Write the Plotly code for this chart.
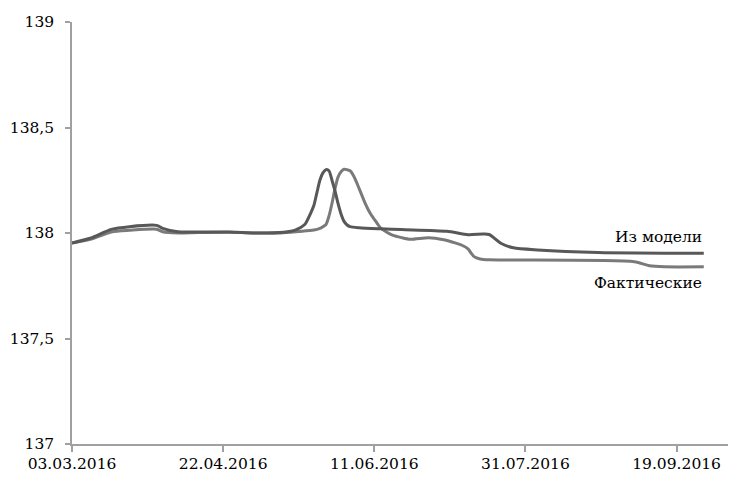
import plotly.graph_objects as go

# ---- data ----
model_dates = ["2016-03-03", "2016-03-09", "2016-03-16", "2016-03-22", "2016-03-31", "2016-04-02",
               "2016-04-07", "2016-04-14", "2016-04-24", "2016-05-04", "2016-05-12", "2016-05-16",
               "2016-05-19", "2016-05-20", "2016-05-21", "2016-05-22", "2016-05-23", "2016-05-24",
               "2016-05-25", "2016-05-26", "2016-05-27", "2016-05-28", "2016-05-29", "2016-05-30",
               "2016-05-31", "2016-06-01", "2016-06-02", "2016-06-03", "2016-06-06", "2016-06-13",
               "2016-06-20", "2016-07-05", "2016-07-12", "2016-07-17", "2016-07-19", "2016-07-23",
               "2016-07-27", "2016-08-04", "2016-08-24", "2016-09-28"]
model_values = [137.953, 137.975, 138.017, 138.030, 138.036, 138.022,
                138.006, 138.005, 138.005, 138.000, 138.004, 138.015,
                138.040, 138.065, 138.095, 138.130, 138.190, 138.250,
                138.285, 138.300, 138.295, 138.250, 138.200, 138.140,
                138.090, 138.055, 138.038, 138.030, 138.025, 138.020,
                138.016, 138.008, 137.992, 137.995, 137.993, 137.950,
                137.930, 137.920, 137.908, 137.904]

actual_dates = ["2016-03-03", "2016-03-09", "2016-03-16", "2016-03-22", "2016-03-31", "2016-04-02",
                "2016-04-07", "2016-04-14", "2016-04-24", "2016-05-04", "2016-05-11", "2016-05-17",
                "2016-05-22", "2016-05-24", "2016-05-25", "2016-05-26", "2016-05-27", "2016-05-28",
                "2016-05-29", "2016-05-30", "2016-05-31", "2016-06-01", "2016-06-02", "2016-06-03",
                "2016-06-04", "2016-06-05", "2016-06-06", "2016-06-07", "2016-06-08", "2016-06-09",
                "2016-06-10", "2016-06-11", "2016-06-12", "2016-06-13", "2016-06-15", "2016-06-17",
                "2016-06-20", "2016-06-23", "2016-06-29", "2016-07-04", "2016-07-08", "2016-07-10",
                "2016-07-12", "2016-07-13", "2016-07-14", "2016-07-16", "2016-07-19", "2016-07-27",
                "2016-09-05", "2016-09-10", "2016-09-15", "2016-09-28"]
actual_values = [137.953, 137.970, 138.005, 138.013, 138.018, 138.006,
                 138.000, 138.002, 138.003, 138.000, 138.000, 138.007,
                 138.014, 138.022, 138.030, 138.040, 138.080, 138.140,
                 138.210, 138.265, 138.290, 138.302, 138.300, 138.295,
                 138.275, 138.245, 138.210, 138.175, 138.140, 138.110,
                 138.085, 138.065, 138.045, 138.025, 138.005, 137.990,
                 137.978, 137.970, 137.978, 137.968, 137.952, 137.942,
                 137.925, 137.905, 137.888, 137.877, 137.873, 137.872,
                 137.864, 137.845, 137.840, 137.840]

label_model = "Из модели"
label_actual = "Фактические"

FONT = "DejaVu Serif"
FS = 15.5

fig = go.Figure()
fig.add_trace(go.Scatter(x=actual_dates, y=actual_values, mode="lines", name=label_actual,
                         line=dict(color="#7a7a7a", width=3, shape="spline", smoothing=0.7)))
fig.add_trace(go.Scatter(x=model_dates, y=model_values, mode="lines", name=label_model,
                         line=dict(color="#585858", width=3, shape="spline", smoothing=0.7)))

fig.add_annotation(x="2016-09-28", y=137.981, text=label_model, showarrow=False,
                   xanchor="right", yanchor="middle", font=dict(family=FONT, size=FS, color="#000"))
fig.add_annotation(x="2016-09-28", y=137.763, text=label_actual, showarrow=False,
                   xanchor="right", yanchor="middle", font=dict(family=FONT, size=FS, color="#000"))

# the page body adds an 8px offset, so the figure is 8px smaller;
# margins are zero and the plot area is placed with axis domains, so paper == whole figure
W, H = 728, 469
FRAME_X = 1.0 / W
FRAME_Y = 1 - 4.0 / H

fig.update_layout(
    width=W, height=H,
    margin=dict(l=0, r=0, t=0, b=0, autoexpand=False),
    paper_bgcolor="white", plot_bgcolor="rgba(0,0,0,0)",
    showlegend=False,
    separators=", ",
    font=dict(family=FONT, size=FS, color="#000"),
    xaxis=dict(type="date", range=["2016-03-03", "2016-10-07"],
               automargin=False, domain=[64.0 / W, 723.0 / W], anchor="y",
               tick0="2016-03-03", dtick=50 * 86400000, tickformat="%d.%m.%Y",
               showgrid=False, zeroline=False, showline=True, linecolor="#a0a0a0", linewidth=1.5,
               ticks="outside", ticklen=6, tickcolor="#a0a0a0", tickwidth=1.5,
               ticklabelstandoff=-1,
               tickfont=dict(family=FONT, size=FS, color="#000")),
    yaxis=dict(range=[137, 139], dtick=0.5, tick0=137, automargin=False,
               domain=[1 - 436.0 / H, 1 - 14.0 / H], anchor="x",
               showgrid=False, zeroline=False, showline=True, linecolor="#a0a0a0",
               linewidth=1.5, ticks="outside", ticklen=5, tickcolor="#a0a0a0",
               tickwidth=1.5, ticklabelstandoff=8,
               tickfont=dict(family=FONT, size=FS, color="#000")),
    # empty axis pair whose lines draw the outer chart frame (left and top edges)
    xaxis2=dict(domain=[FRAME_X, 1], anchor="y2", side="top", range=[0, 1], showline=True,
                linecolor="#a6a6a6", linewidth=1.5, showticklabels=False, ticks="",
                showgrid=False, zeroline=False, fixedrange=True),
    yaxis2=dict(domain=[0, FRAME_Y], anchor="x2", side="left", range=[0, 1], showline=True,
                linecolor="#a6a6a6", linewidth=1.5, showticklabels=False, ticks="",
                showgrid=False, zeroline=False, fixedrange=True),
)

fig.write_html("out.html")
